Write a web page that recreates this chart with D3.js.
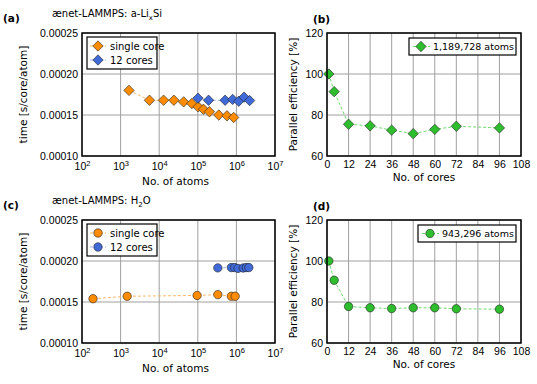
<!DOCTYPE html>
<html>
<head>
<meta charset="utf-8">
<script src="https://cdn.jsdelivr.net/npm/d3@7"></script>
<style>
  body { margin: 0; background: #fff; }
  svg { font-family: "DejaVu Sans", sans-serif; }
</style>
</head>
<body>
<div id="chart"></div>
<script>
// panel (a) a-LixSi timings
const lisiSingleAtoms = [1650, 5600, 13000, 24000, 43000, 70000, 102000, 140000, 200000, 350000, 570000, 850000];
const lisiSingleTime = [0.000180, 0.000168, 0.000168, 0.000168, 0.000166, 0.000164, 0.000160, 0.000157, 0.000154, 0.000150, 0.000149, 0.000147];
const lisiMultiAtoms = [101000, 190000, 510000, 800000, 1150000, 1580000, 2200000];
const lisiMultiTime = [0.0001705, 0.000168, 0.000168, 0.000169, 0.0001668, 0.0001718, 0.0001676];

// panel (c) H2O timings
const h2oSingleAtoms = [193, 1480, 96000, 330000, 740000, 930000];
const h2oSingleTime = [0.000154, 0.000157, 0.000158, 0.000159, 0.000157, 0.000157];
const h2oMultiAtoms = [330000, 740000, 900000, 1100000, 1500000, 1800000, 2100000];
const h2oMultiTime = [0.0001916, 0.000192, 0.000192, 0.000191, 0.0001915, 0.000192, 0.000192];

// panels (b), (d) parallel efficiency
const cores = [1, 4, 12, 24, 36, 48, 60, 72, 96];
const lisiEff = [100, 91.4, 75.5, 74.7, 72.6, 70.9, 73.0, 74.5, 73.7];
const h2oEff = [100, 90.6, 77.8, 77.2, 76.8, 77.2, 77.2, 76.7, 76.5];

const atomTicks = [1e2, 1e3, 1e4, 1e5, 1e6, 1e7];
const timeTicks = [0.00010, 0.00015, 0.00020, 0.00025];
const coreTicks = [0, 12, 24, 36, 48, 60, 72, 84, 96, 108];
const effTicks = [60, 80, 100, 120];

const ORANGE = "#ff8c00", BLUE = "#3f6ad8", GREEN = "#2dbd2d";
const ORANGE_L = "#ffb868", BLUE_L = "#9fb4ec", GREEN_L = "#6fdc6f";
const FS = 10.5;

const width = 537, height = 384;
const svg = d3.select("#chart").append("svg")
  .attr("width", width).attr("height", height);

const diamondPath = "M0,-5.2L5.2,0L0,5.2L-5.2,0Z";

function marker(g, shape, x, y, color) {
  if (shape === "diamond") {
    g.append("path").attr("d", diamondPath)
      .attr("transform", `translate(${x},${y})`)
      .attr("fill", color).attr("stroke", "#222").attr("stroke-width", 0.6);
  } else {
    g.append("circle").attr("cx", x).attr("cy", y).attr("r", 4.2)
      .attr("fill", color).attr("stroke", "#222").attr("stroke-width", 0.6);
  }
}

function frame(g, x0, x1, y0, y1) {
  g.append("rect").attr("x", x0).attr("y", y0)
    .attr("width", x1 - x0).attr("height", y1 - y0)
    .attr("fill", "none").attr("stroke", "#000").attr("stroke-width", 1.5);
}

function series(g, x, y, xs, ys, shape, color, light) {
  const line = d3.line().x((d, i) => x(xs[i])).y((d) => y(d));
  g.append("path").attr("d", line(ys))
    .attr("fill", "none").attr("stroke", light)
    .attr("stroke-width", 1).attr("stroke-dasharray", "3,2");
  ys.forEach((v, i) => marker(g, shape, x(xs[i]), y(v), color));
}

function legend(g, x0, y0, w, items) {
  const h = 14 * items.length + 4;
  g.append("rect").attr("x", x0).attr("y", y0).attr("width", w).attr("height", h)
    .attr("fill", "#fff").attr("stroke", "#000").attr("stroke-width", 1.2);
  items.forEach((it, i) => {
    const cy = y0 + 9 + i * 14;
    g.append("line").attr("x1", x0 + 3).attr("x2", x0 + 19)
      .attr("y1", cy).attr("y2", cy)
      .attr("stroke", it.light).attr("stroke-dasharray", "3,2");
    marker(g, it.shape, x0 + 11, cy, it.color);
    g.append("text").attr("x", x0 + 23).attr("y", cy + 3.5)
      .attr("font-size", 10).text(it.label);
  });
}

function timePanel(top, label, titleParts, single, multi, shape) {
  const x0 = 82, x1 = 275, y0 = top, y1 = top + 123;
  const g = svg.append("g");
  const x = d3.scaleLog().domain([1e2, 1e7]).range([x0, x1]);
  const y = d3.scaleLinear().domain([0.0001, 0.00025]).range([y1, y0]);

  // grid
  g.append("g").selectAll("line").data(atomTicks).join("line")
    .attr("x1", (d) => x(d)).attr("x2", (d) => x(d))
    .attr("y1", y0).attr("y2", y1)
    .attr("stroke", "#a0a0a0").attr("stroke-width", 1);
  g.append("g").selectAll("line").data(timeTicks).join("line")
    .attr("x1", x0).attr("x2", x1)
    .attr("y1", (d) => y(d)).attr("y2", (d) => y(d))
    .attr("stroke", "#a0a0a0").attr("stroke-width", 1);

  // axes
  const xAxis = d3.axisBottom(x).tickValues(atomTicks).tickSize(0).tickPadding(5).tickFormat("");
  const gx = g.append("g").attr("transform", `translate(0,${y1})`).call(xAxis);
  gx.select(".domain").remove();
  gx.selectAll(".tick").each(function (d) {
    const t = d3.select(this).append("text").attr("fill", "#000")
      .attr("y", 13.5).attr("text-anchor", "middle").attr("font-size", FS);
    t.append("tspan").text("10");
    t.append("tspan").attr("dy", -4).attr("font-size", 7.5).text(Math.round(Math.log10(d)));
  });
  const yAxis = d3.axisLeft(y).tickValues(timeTicks).tickSize(0).tickPadding(4)
    .tickFormat(d3.format(".5f"));
  const gy = g.append("g").attr("transform", `translate(${x0},0)`).call(yAxis);
  gy.select(".domain").remove();
  gy.selectAll("text").attr("font-size", FS).attr("fill", "#000");

  series(g, x, y, single.xs, single.ys, shape, ORANGE, ORANGE_L);
  series(g, x, y, multi.xs, multi.ys, shape, BLUE, BLUE_L);
  frame(g, x0, x1, y0, y1);

  legend(g, 87, y0 + 4, 70, [
    { label: "single core", shape, color: ORANGE, light: ORANGE_L },
    { label: "12 cores", shape, color: BLUE, light: BLUE_L },
  ]);

  g.append("text").attr("x", (x0 + x1) / 2 - 3).attr("y", y1 + 29)
    .attr("text-anchor", "middle").attr("font-size", FS).text("No. of atoms");
  g.append("text").attr("transform", `translate(27,${(y0 + y1) / 2}) rotate(-90)`)
    .attr("text-anchor", "middle").attr("font-size", FS).text("time [s/core/atom]");

  g.append("text").attr("x", 3).attr("y", top - 11)
    .attr("font-size", 10.5).attr("font-weight", "bold").text(label);
  const t = g.append("text").attr("x", 52).attr("y", top - 16).attr("font-size", 10);
  titleParts.forEach((p) => {
    t.append("tspan").attr("dy", p.dy || 0).attr("font-size", p.size || 10).text(p.text);
  });
}

function effPanel(top, label, ys, shape, legendText, legendX, legendW) {
  const x0 = 327, x1 = 521, y0 = top, y1 = top + 123;
  const g = svg.append("g");
  const x = d3.scaleLinear().domain([0, 108]).range([x0, x1]);
  const y = d3.scaleLinear().domain([60, 120]).range([y1, y0]);

  g.append("g").selectAll("line").data(coreTicks).join("line")
    .attr("x1", (d) => x(d)).attr("x2", (d) => x(d))
    .attr("y1", y0).attr("y2", y1)
    .attr("stroke", "#a0a0a0").attr("stroke-width", 1);
  g.append("g").selectAll("line").data(effTicks).join("line")
    .attr("x1", x0).attr("x2", x1)
    .attr("y1", (d) => y(d)).attr("y2", (d) => y(d))
    .attr("stroke", "#a0a0a0").attr("stroke-width", 1);

  const gx = g.append("g").attr("transform", `translate(0,${y1})`)
    .call(d3.axisBottom(x).tickValues(coreTicks).tickSize(0).tickPadding(5));
  gx.select(".domain").remove();
  gx.selectAll("text").attr("font-size", FS).attr("fill", "#000");
  const gy = g.append("g").attr("transform", `translate(${x0},0)`)
    .call(d3.axisLeft(y).tickValues(effTicks).tickSize(0).tickPadding(4));
  gy.select(".domain").remove();
  gy.selectAll("text").attr("font-size", FS).attr("fill", "#000");

  series(g, x, y, cores, ys, shape, GREEN, GREEN_L);
  frame(g, x0, x1, y0, y1);

  const lg = g.append("g");
  lg.append("rect").attr("x", legendX).attr("y", y0 + 5).attr("width", legendW).attr("height", 17)
    .attr("fill", "#fff").attr("stroke", "#000").attr("stroke-width", 1.2);
  const cy = y0 + 13.5;
  lg.append("line").attr("x1", legendX + 4).attr("x2", legendX + 21)
    .attr("y1", cy).attr("y2", cy).attr("stroke", GREEN_L).attr("stroke-dasharray", "3,2");
  marker(lg, shape, legendX + 12, cy, GREEN);
  lg.append("text").attr("x", legendX + 24).attr("y", cy + 3.5)
    .attr("font-size", 9.5).text(legendText);

  g.append("text").attr("x", (x0 + x1) / 2).attr("y", y1 + 25)
    .attr("text-anchor", "middle").attr("font-size", FS).text("No. of cores");
  g.append("text").attr("transform", `translate(297,${(y0 + y1) / 2}) rotate(-90)`)
    .attr("text-anchor", "middle").attr("font-size", FS).text("Parallel efficiency [%]");
  g.append("text").attr("x", 313).attr("y", top - 10)
    .attr("font-size", 10.5).attr("font-weight", "bold").text(label);
}

timePanel(33, "(a)", [{ text: "ænet-LAMMPS: a-Li" }, { text: "x", dy: 2.5, size: 7 }, { text: "Si", dy: -2.5 }],
  { xs: lisiSingleAtoms, ys: lisiSingleTime }, { xs: lisiMultiAtoms, ys: lisiMultiTime }, "diamond");
effPanel(33, "(b)", lisiEff, "diamond", "1,189,728 atoms", 409, 107);

timePanel(220, "(c)", [{ text: "ænet-LAMMPS: H" }, { text: "2", dy: 2.5, size: 7 }, { text: "O", dy: -2.5 }],
  { xs: h2oSingleAtoms, ys: h2oSingleTime }, { xs: h2oMultiAtoms, ys: h2oMultiTime }, "circle");
effPanel(220, "(d)", h2oEff, "circle", "943,296 atoms", 418, 98);
</script>
</body>
</html>
